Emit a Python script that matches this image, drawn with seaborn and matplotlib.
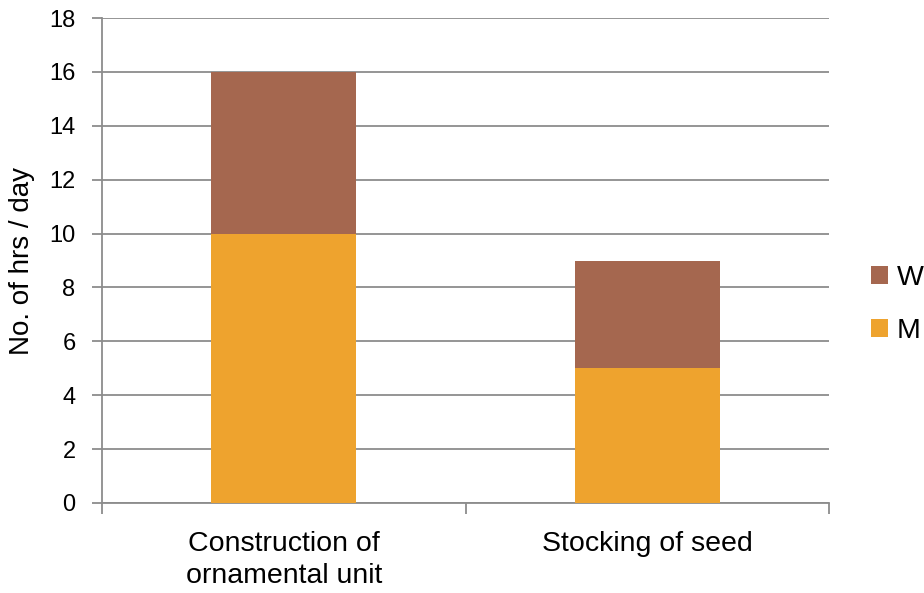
import matplotlib
matplotlib.use("Agg")
import matplotlib.pyplot as plt
import seaborn as sns
import pandas as pd
from matplotlib.patches import Patch

categories = ["Construction of\nornamental unit", "Stocking of seed"]
men_hours = [10, 5]
women_hours = [6, 4]
y_ticks = [0, 2, 4, 6, 8, 10, 12, 14, 16, 18]

color_m = "#EEA32E"
color_w = "#A5674F"
grid_color = "#8C8C8C"

sns.set_theme(style="white")
plt.rcParams["font.family"] = ["Liberation Sans", "DejaVu Sans"]
plt.rcParams["text.color"] = "black"
plt.rcParams["xtick.labelcolor"] = "black"
plt.rcParams["ytick.labelcolor"] = "black"
plt.rcParams["axes.labelcolor"] = "black"

df = pd.DataFrame({"category": categories, "M": men_hours, "W": women_hours})

fig = plt.figure(figsize=(9.24, 5.93), dpi=100)
ax = fig.add_axes([0.1104, 0.1518, 0.7868, 0.8178])

# lower segment (M), then W stacked on top of it
sns.barplot(data=df, x="category", y="M", color=color_m, width=0.4,
            saturation=1, linewidth=0, ax=ax, zorder=3)
sns.barplot(data=df, x="category", y="W", bottom=df["M"], color=color_w,
            width=0.4, saturation=1, linewidth=0, ax=ax, zorder=3)

ax.set_xlim(-0.5, 1.5)
ax.set_ylim(0, 18)
ax.set_yticks(y_ticks)
ax.set_yticklabels([str(t) for t in y_ticks], fontsize=17)
ax.yaxis.grid(True, color=grid_color, linewidth=1.3, zorder=0)
ax.set_axisbelow(True)

# category labels centred, tick marks on category boundaries
ax.set_xticks([0, 1])
ax.set_xticklabels(categories, fontsize=20.5, linespacing=1.3)
ax.tick_params(axis="x", length=0, pad=20)
ax.set_xticks([-0.5, 0.5, 1.5], minor=True)
ax.tick_params(axis="x", which="minor", length=8, width=1.3, color=grid_color,
               direction="out", bottom=True)
ax.tick_params(axis="y", length=7, width=1.3, color=grid_color,
               direction="out", left=True, pad=12)

for side in ["top", "right"]:
    ax.spines[side].set_visible(False)
for side in ["left", "bottom"]:
    ax.spines[side].set_color(grid_color)
    ax.spines[side].set_linewidth(1.3)

ax.set_xlabel("")
ax.set_ylabel("No. of hrs / day", fontsize=20, labelpad=10)

handles = [Patch(facecolor=color_w, edgecolor="none"),
           Patch(facecolor=color_m, edgecolor="none")]
fig.legend(handles, ["W", "M"], loc="center left",
           bbox_to_anchor=(0.943, 0.487), frameon=False, fontsize=20.5,
           handlelength=0.6, handleheight=0.6, handletextpad=0.3,
           labelspacing=0.95, borderpad=0, borderaxespad=0)

fig.savefig("out.png", dpi=100)
